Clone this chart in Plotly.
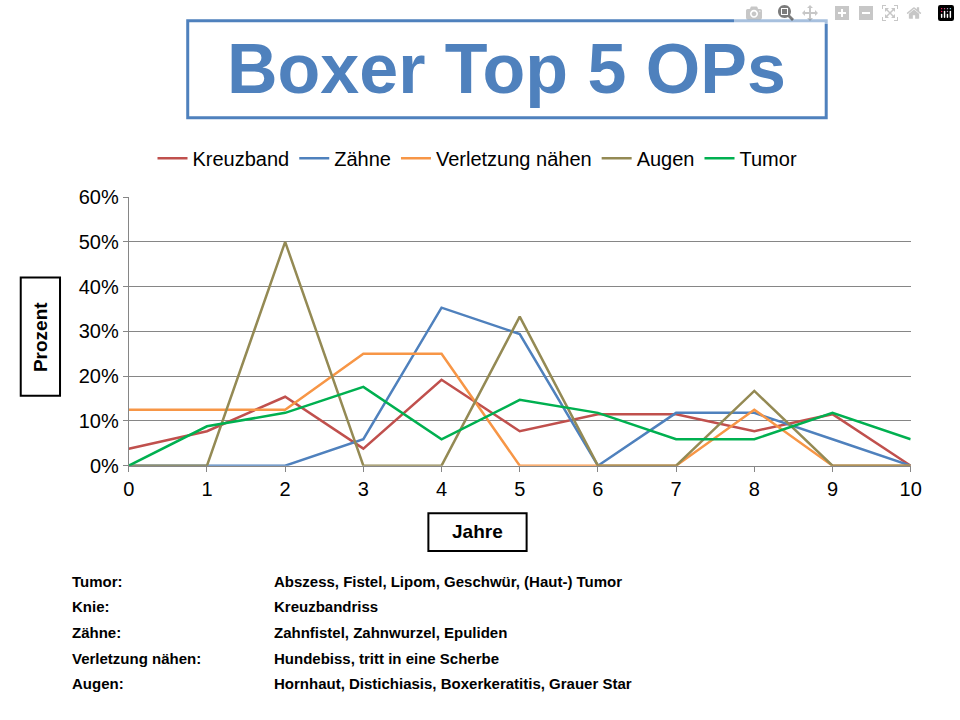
import plotly.graph_objects as go

years = list(range(11))
kreuzband = [3.8, 7.7, 15.4, 3.8, 19.2, 7.7, 11.5, 11.5, 7.7, 11.5, 0]
zaehne = [0, 0, 0, 5.9, 35.3, 29.4, 0, 11.8, 11.8, 5.9, 0]
verletzung = [12.5, 12.5, 12.5, 25, 25, 0, 0, 0, 12.5, 0, 0]
augen = [0, 0, 50, 0, 0, 33.3, 0, 0, 16.7, 0, 0]
tumor = [0, 8.8, 11.8, 17.6, 5.9, 14.7, 11.8, 5.9, 5.9, 11.8, 5.9]

series = [("Kreuzband", kreuzband, "#C0504D"), ("Zähne", zaehne, "#4F81BD"),
          ("Verletzung nähen", verletzung, "#F79646"), ("Augen", augen, "#948A54"),
          ("Tumor", tumor, "#00B050")]

notes_left = ["Tumor:", "Knie:", "Zähne:", "Verletzung nähen:", "Augen:"]
notes_right = ["Abszess, Fistel, Lipom, Geschwür, (Haut-) Tumor", "Kreuzbandriss",
               "Zahnfistel, Zahnwurzel, Epuliden", "Hundebiss, tritt in eine Scherbe",
               "Hornhaut, Distichiasis, Boxerkeratitis, Grauer Star"]

F = "Liberation Sans, Arial, sans-serif"
fig = go.Figure()
for name, vals, col in series:
    fig.add_trace(go.Scatter(x=years, y=[v / 100 for v in vals], name=name, mode="lines",
                             line=dict(color=col, width=2.5)))

fig.update_layout(
    width=960, height=720, paper_bgcolor="white", plot_bgcolor="white",
    margin=dict(l=0, r=0, t=0, b=0),
    font=dict(family=F, size=20, color="black"),
    xaxis=dict(domain=[125/960, 921/960], range=[0, 10], tickvals=years, showgrid=False,
               showline=True, linecolor="#868686", ticks="outside", ticklen=5, tickcolor="#868686"),
    yaxis=dict(domain=[1-469/720, 1-192/720], range=[0, 0.6], dtick=0.1, tickformat=".0%",
               gridcolor="#868686", showline=True, linecolor="#868686", ticks="outside",
               ticklen=5, tickcolor="#868686"),
    legend=dict(orientation="h", x=0.5, xanchor="center", y=1-152/720, yanchor="middle",
                font=dict(size=20)),
    shapes=[dict(type="rect", xref="paper", yref="paper", x0=185/960, x1=835/960,
                 y0=1-110/720, y1=1-10/720, line=dict(color="#4F81BD", width=3)),
            dict(type="rect", xref="paper", yref="paper", x0=15/960, x1=55/960,
                 y0=1-397/720, y1=1-275/720, line=dict(color="black", width=2)),
            dict(type="rect", xref="paper", yref="paper", x0=430/960, x1=530/960,
                 y0=1-557/720, y1=1-518/720, line=dict(color="black", width=2))],
)
ann = [dict(text="<b>Boxer Top 5 OPs</b>", x=510/960, y=1-60/720, font=dict(size=70, color="#4F81BD")),
       dict(text="<b>Prozent</b>", x=35/960, y=1-336/720, textangle=-90, font=dict(size=19)),
       dict(text="<b>Jahre</b>", x=480/960, y=1-537/720, font=dict(size=19))]
for i, (a, b) in enumerate(zip(notes_left, notes_right)):
    yy = 1 - (588 + i * 26.5) / 720
    ann.append(dict(text="<b>%s</b>" % a, x=65/960, y=yy, xanchor="left", font=dict(size=15)))
    ann.append(dict(text="<b>%s</b>" % b, x=271/960, y=yy, xanchor="left", font=dict(size=15)))
for a in ann:
    a.update(xref="paper", yref="paper", showarrow=False)
    if "xanchor" not in a:
        a["xanchor"] = "center"
    a["yanchor"] = "middle"
    a["font"]["family"] = F
fig.update_layout(annotations=ann)
fig.write_html("out.html", post_script="document.body.style.margin='0';document.body.style.overflow='hidden';")
